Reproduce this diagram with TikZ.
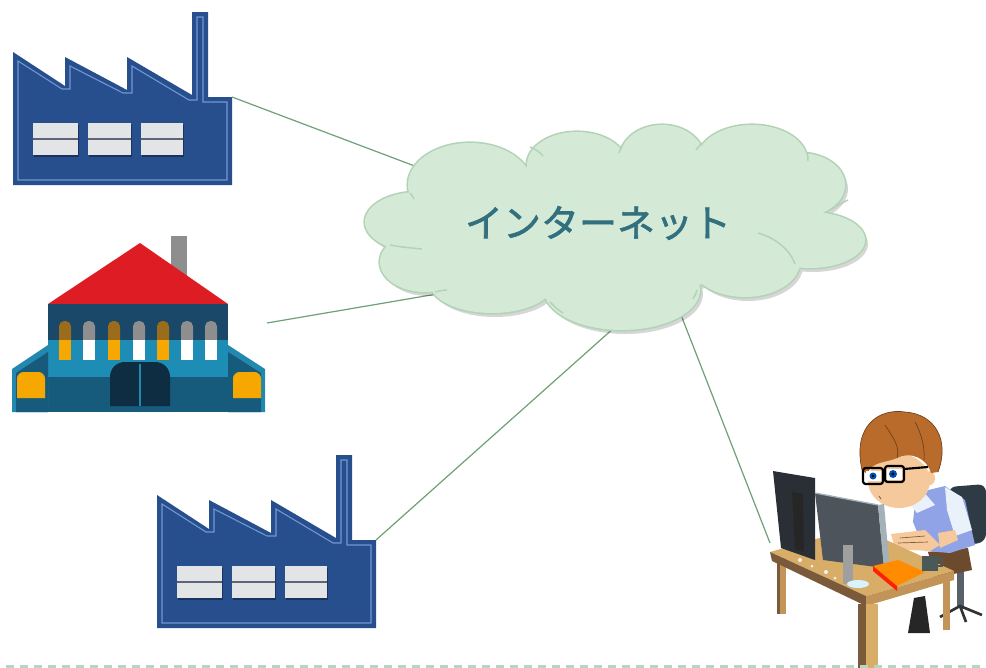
\documentclass[tikz,border=0pt]{standalone}
\usepackage{fontspec}
\newfontfamily\jpfont{Noto Sans CJK JP}[FakeBold=1.6]
\definecolor{factoryblue}{HTML}{274F8E}
\definecolor{factoryedge}{HTML}{7397D0}
\definecolor{winfill}{HTML}{E3E4E6}
\definecolor{winline}{HTML}{5B6478}
\definecolor{linkgreen}{HTML}{6F9F76}
\definecolor{cloudfill}{HTML}{D4EAD6}
\definecolor{cloudedge}{HTML}{B3D3B7}
\definecolor{cloudtext}{HTML}{33707F}
\definecolor{dashgreen}{HTML}{B9D5BF}
\definecolor{roofred}{HTML}{DD1C24}
\definecolor{bandtop}{HTML}{1A4868}
\definecolor{bandmid}{HTML}{1E8DB5}
\definecolor{bandlow}{HTML}{175B7C}
\definecolor{wingedge}{HTML}{2388B0}
\definecolor{amber}{HTML}{F6A800}
\definecolor{amberdim}{HTML}{9A6C1C}
\definecolor{greydim}{HTML}{8E8E8E}
\definecolor{doorcol}{HTML}{0F2D42}
\definecolor{desktop}{HTML}{D8AD68}
\definecolor{deskside}{HTML}{C39458}
\definecolor{deskdark}{HTML}{7B5A3B}
\definecolor{skin}{HTML}{F6C99C}
\definecolor{hair}{HTML}{B86B2A}
\definecolor{vest}{HTML}{8FA3E6}
\definecolor{shirt}{HTML}{E9F1FB}
\definecolor{chaircol}{HTML}{2E3A44}
\definecolor{pants}{HTML}{6B4A2E}
\definecolor{screenback}{HTML}{2A2F35}
\definecolor{screenfront}{HTML}{4D545B}
\definecolor{screenrim}{HTML}{A3B1B8}
\definecolor{mugcol}{HTML}{4A5858}
\begin{document}
\begin{tikzpicture}[x=0.75pt,y=-0.75pt,
  link/.style={draw=linkgreen,line width=0.9pt},
  puffseam/.style={draw=cloudedge,line width=1.1pt},
  factory/.pic={
    \fill[factoryblue] (13,52)--(65,86)--(65,57)--(127,90)--(127,57)--(192,95)--(192,12)--(208,12)
      --(208,97)--(232,97)--(232,185)--(13,185)--cycle;
    \draw[factoryedge,line width=0.8pt] (18,180)--(18,61)--(62,89)--(70,89)--(70,66)--(123,93)--(132,93)
      --(132,66)--(189,100)--(197,100)--(197,17)--(203,17)--(203,102)--(227,102)--(227,180)--cycle;
    \foreach \a/\b in {33/78,88/131,141/183}{
      \fill[black,opacity=.35] (\a+1,125) rectangle (\b+1,157);
      \fill[winfill] (\a,123) rectangle (\b,155);
      \draw[winline,line width=1pt] (\a,139)--(\b,139);
    }
    \coordinate (-roof) at (232,97);
  },
]
\useasboundingbox (0,0) rectangle (986,668);

% two factories
\pic (f1) at (0,0) {factory};
\pic (f2) at (144,443) {factory};

% school building
\fill[greydim] (171,236) rectangle (187,280);
\fill[roofred] (48,304)--(140,243)--(228,304)--cycle;
\fill[bandtop] (48,304) rectangle (228,340);
\fill[bandmid] (48,340) rectangle (228,377);
\fill[bandlow] (48,377) rectangle (228,412);
\fill[wingedge] (48,345)--(12,369)--(12,412)--(48,412)--cycle;
\fill[bandlow] (48,352)--(16,373)--(16,412)--(48,412)--cycle;
\fill[wingedge] (228,345)--(265,369)--(265,412)--(228,412)--cycle;
\fill[bandlow] (228,352)--(261,373)--(261,412)--(228,412)--cycle;
\fill[amber] (17,398) {[rounded corners=5pt] --(17,372)--(45,372)} --(45,398)--cycle;
\fill[amber] (233,398) {[rounded corners=5pt] --(233,372)--(261,372)} --(261,398)--cycle;
\foreach \x in {59,108,157}{
  \fill[amberdim] (\x,341) {[rounded corners=4pt] --(\x,321)--(\x+12,321)} --(\x+12,341)--cycle;
  \fill[amber] (\x,340) rectangle (\x+12,360);
}
\foreach \x in {83,133,181,205}{
  \fill[greydim] (\x,341) {[rounded corners=4pt] --(\x,321)--(\x+12,321)} --(\x+12,341)--cycle;
  \fill[white] (\x,340) rectangle (\x+12,360);
}
\fill[doorcol] (110,406) {[rounded corners=11pt] --(110,362)--(170,362)} --(170,406)--cycle;
\draw[wingedge,line width=0.8pt] (140,364)--(140,406);
\coordinate (sch) at (267,323);

% person at the desk
\coordinate (pc) at (770,543);
\fill[chaircol,rounded corners=6pt] (948,487)--(986,484)--(986,542)--(955,547)--cycle;
\fill[chaircol!80!white] (957,560) rectangle (964,608);
\draw[black!80,line width=2pt] (940,617)--(960,606)--(982,615) (960,606)--(966,622);
\fill[pants] (928,552)--(968,548)--(972,570)--(935,578)--cycle;
\fill[black!85] (914,598)--(925,596)--(930,633)--(908,633)--cycle;
\fill[vest] (916,493)--(945,486)--(965,500)--(975,545)--(950,553)--(925,551)--(913,522)--cycle;
\fill[shirt] (945,487)--(962,497)--(972,530)--(955,536)--(947,510)--cycle;
\fill[shirt] (905,499)--(922,490)--(935,505)--(917,513)--cycle;
\fill[skin] (938,533)--(955,530)--(958,540)--(940,548)--cycle;
\fill[skin] (891,534)--(925,530)--(940,545)--(930,551)--(895,549)--cycle;
\draw[deskdark,line width=0.5pt] (900,538)--(925,536) (898,543)--(928,542);
\fill[skin] (930,478) ellipse [x radius=5,y radius=7];
\fill[skin] (899,481) ellipse [x radius=31,y radius=27];
\fill[hair] (862,470) .. controls (852,425) and (880,408) .. (905,412)
  .. controls (935,414) and (950,440) .. (938,472) -- (931,473)
  .. controls (927,458) and (910,451) .. (897,458)
  .. controls (886,463) and (872,461) .. (867,474) -- cycle;
\draw[hair!60!black,line width=0.5pt] (862,470) .. controls (852,425) and (880,408) .. (905,412)
  .. controls (935,414) and (950,440) .. (938,472);
\draw[hair!60!black,line width=0.5pt] (885,425) .. controls (895,440) and (900,448) .. (897,458)
  (915,422) .. controls (922,435) and (925,448) .. (924,460);
\fill[white] (866,471) rectangle (881,481);
\fill[white] (887,469) rectangle (902,480);
\fill[blue!55!cyan!70!black] (873,476) circle (3.5);
\fill[blue!55!cyan!70!black] (893,474) circle (4);
\fill[black] (873,476) circle (1.4) (893,474) circle (1.6);
\draw[black,line width=1.6pt,rounded corners=2pt] (863,468) rectangle (883,484) (885,466) rectangle (904,482)
  (883,471)--(885,470) (904,469)--(928,467);
\draw[deskdark,line width=0.6pt] (879,496)--(881,499);

% desk
\fill[deskdark] (777,558) rectangle (786,614);
\fill[deskside] (780,558) rectangle (786,614);
\fill[deskside] (943,575) rectangle (950,630);
\fill[desktop] (770,552)--(858,527)--(954,571)--(866,596)--cycle;
\fill[deskdark] (770,552)--(866,596)--(866,606)--(772,561)--cycle;
\fill[deskside] (866,596)--(954,571)--(954,580)--(866,606)--cycle;
\fill[deskdark] (858,604) rectangle (866,668);
\fill[desktop] (866,604) rectangle (878,668);

% monitors and desk items
\fill[screenback] (773,471)--(815,478)--(815,560)--(781,548)--cycle;
\fill[black!85] (792,492)--(803,494)--(804,552)--(795,549)--cycle;
\fill[screenfront] (815,493)--(878,505)--(884,568)--(823,560)--cycle;
\fill[screenrim] (878,505)--(884,504)--(890,571)--(884,569)--cycle;
\draw[screenrim,line width=1pt] (815,493)--(878,505);
\fill[gray!75] (843,545) rectangle (853,584);
\fill[cyan!15] (858,584) ellipse [x radius=11,y radius=4];
\fill[white!90!gray] (800,560) circle (2) (812,566) circle (1.5) (826,572) circle (2) (835,578) circle (1.5);
\fill[orange!90!yellow] (873,566)--(898,560)--(925,572)--(897,586)--cycle;
\fill[red!75!orange] (873,566)--(897,586)--(897,591)--(873,571)--cycle;
\fill[mugcol] (922,556) rectangle (938,571);
\draw[mugcol,line width=1.2pt] (938,559) -- (942,559) -- (942,566) -- (938,566);

% cloud anchor points
\coordinate (c1) at (420,168);
\coordinate (c2) at (437,294);
\coordinate (c3) at (615,327);
\coordinate (c4) at (681,315);

% connectors
\draw[link] (f1-roof) -- (c1);
\draw[link] (sch) -- (c2);
\draw[link] (f2-roof) -- (c3);
\draw[link] (pc) -- (c4);

% cloud built from overlapping puffs
\def\cloudpuffs{
  (418,222) ellipse [x radius=53,y radius=30]
  (425,262) ellipse [x radius=45,y radius=30]
  (492,283) ellipse [x radius=62,y radius=30]
  (622,290) ellipse [x radius=78,y radius=40]
  (745,262) ellipse [x radius=55,y radius=35]
  (810,240) ellipse [x radius=55,y radius=28]
  (800,185) ellipse [x radius=45,y radius=32]
  (752,160) ellipse [x radius=55,y radius=35]
  (662,158) ellipse [x radius=42,y radius=33]
  (577,165) ellipse [x radius=50,y radius=33]
  (470,185) ellipse [x radius=62,y radius=42]
  (620,225) ellipse [x radius=200,y radius=65]
}
\fill[black,opacity=0.16] [shift={(3,4)}] \cloudpuffs;
\draw[cloudedge,line width=2.4pt] \cloudpuffs;
\fill[cloudfill] \cloudpuffs;
% short seams where the puffs meet
\draw[puffseam] (390,245) .. controls (400,247) and (412,248) .. (422,249);
\draw[puffseam] (530,147) .. controls (535,149) and (540,152) .. (543,156);
\draw[puffseam] (622,145) .. controls (621,148) and (620,150) .. (619,153);
\draw[puffseam] (702,143) .. controls (700,145) and (698,147) .. (696,150);
\draw[puffseam] (807,153) .. controls (808,156) and (808,158) .. (808,161);
\draw[puffseam] (830,210) .. controls (836,206) and (842,203) .. (848,200);
\draw[puffseam] (758,233) .. controls (776,238) and (790,250) .. (795,264);
\draw[puffseam] (697,290) .. controls (696,293) and (695,296) .. (693,299);
\draw[puffseam] (550,302) .. controls (554,306) and (558,310) .. (563,313);
\draw[puffseam] (435,292) .. controls (439,291) and (443,290) .. (447,290);
\draw[puffseam] (410,193) .. controls (412,195) and (413,197) .. (414,199);
\node[font=\jpfont\fontsize{28.5pt}{34pt}\selectfont,text=cloudtext,inner sep=0pt] (net) at (598,223) {インターネット};

% bottom rule
\draw[dashgreen,line width=2pt,dash pattern=on 6pt off 4.5pt] (6,666.5) -- (986,666.5);
\end{tikzpicture}
\end{document}
